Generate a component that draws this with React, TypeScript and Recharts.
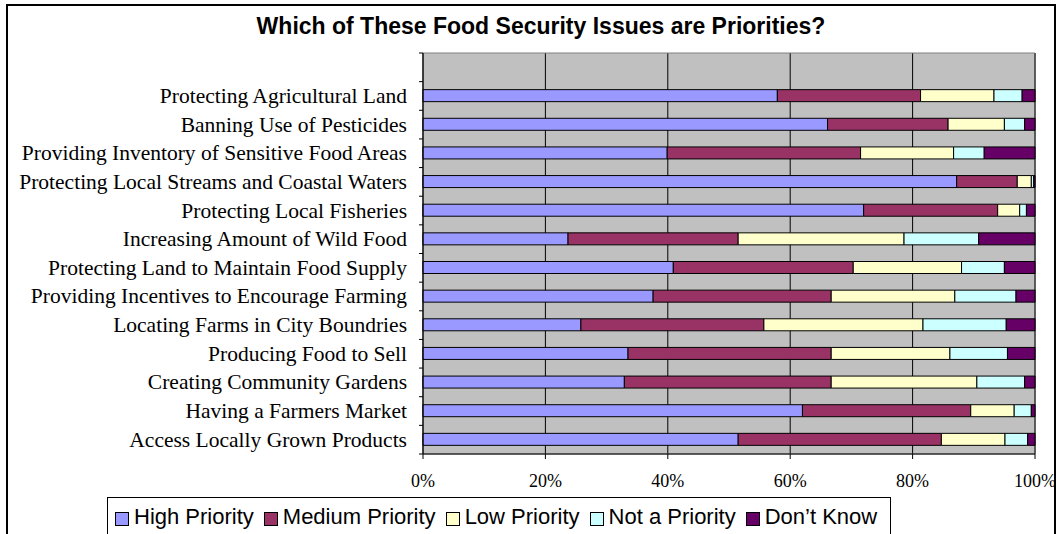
import React from 'react';
import { BarChart, Bar, XAxis, YAxis, CartesianGrid, Legend, ReferenceArea } from 'recharts';

const categories = [
  'Protecting Agricultural Land',
  'Banning Use of Pesticides',
  'Providing Inventory of Sensitive Food Areas',
  'Protecting Local Streams and Coastal Waters',
  'Protecting Local Fisheries',
  'Increasing Amount of Wild Food',
  'Protecting Land to Maintain Food Supply',
  'Providing Incentives to Encourage Farming',
  'Locating Farms in City Boundries',
  'Producing Food to Sell',
  'Creating Community Gardens',
  'Having a Farmers Market',
  'Access Locally Grown Products',
];
const highPriority = [57.9, 66.1, 39.9, 87.2, 72.0, 23.7, 40.9, 37.6, 25.8, 33.5, 32.9, 62.0, 51.5];
const mediumPriority = [23.4, 19.7, 31.6, 9.9, 21.9, 27.8, 29.4, 29.1, 29.9, 33.2, 33.8, 27.5, 33.2];
const lowPriority = [12.0, 9.2, 15.2, 2.3, 3.6, 27.1, 17.7, 20.2, 26.0, 19.4, 23.8, 7.1, 10.4];
const notPriority = [4.6, 3.3, 5.0, 0.4, 1.1, 12.2, 7.0, 10.0, 13.6, 9.4, 7.8, 2.8, 3.7];
const dontKnow = [2.1, 1.7, 8.3, 0.2, 1.4, 9.2, 5.0, 3.1, 4.7, 4.5, 1.7, 0.6, 1.2];
const xTicks = [0, 20, 40, 60, 80, 100];

const series = [
  { key: 'high', name: 'High Priority', color: '#9999FF', values: highPriority },
  { key: 'medium', name: 'Medium Priority', color: '#993366', values: mediumPriority },
  { key: 'low', name: 'Low Priority', color: '#FFFFCC', values: lowPriority },
  { key: 'not', name: 'Not a Priority', color: '#CCFFFF', values: notPriority },
  { key: 'dk', name: 'Don\u2019t Know', color: '#660066', values: dontKnow },
];

const data: any[] = [{ name: ' ' }].concat(
  categories.map((c, i) => {
    const row: any = { name: c };
    series.forEach((s) => {
      row[s.key] = s.values[i];
    });
    return row;
  })
);

const SERIF = '"Liberation Serif", "Times New Roman", serif';
const SANS = '"Liberation Sans", Arial, sans-serif';
const BAND = (454 - 53) / 14;

const YTick = (props: any) => {
  const { x, y, payload, index, visibleTicksCount } = props;
  const half = payload && payload.offset > 0 ? payload.offset : BAND / 2;
  const ax = x + 16;
  return (
    <g>
      <line x1={ax - 4} x2={ax} y1={y - half} y2={y - half} stroke="#000" strokeWidth={1} />
      {index === visibleTicksCount - 1 ? (
        <line x1={ax - 4} x2={ax} y1={y + half} y2={y + half} stroke="#000" strokeWidth={1} />
      ) : null}
      <text x={x} y={y + 7} textAnchor="end" fontFamily={SERIF} fontSize={21.5} fill="#000">
        {payload.value}
      </text>
    </g>
  );
};

const XTick = (props: any) => {
  const { x, y, payload } = props;
  return (
    <text x={x} y={y + 26} textAnchor="middle" fontFamily={SERIF} fontSize={18} fill="#000">
      {payload.value}%
    </text>
  );
};

const seriesOrder = (name: string) => series.findIndex((s) => s.name === name);

const LegendBox = (props: any) => {
  const items = [...(props.payload || [])].sort((a: any, b: any) => seriesOrder(a.value) - seriesOrder(b.value));
  return (
    <div
      style={{
        boxSizing: 'border-box',
        height: 40,
        width: 784,
        border: '1px solid #000',
        background: '#fff',
        display: 'flex',
        alignItems: 'flex-start',
        paddingLeft: 7,
        paddingTop: 7,
        fontFamily: SANS,
        fontSize: 22,
        lineHeight: '24px',
        color: '#000',
        whiteSpace: 'nowrap',
      }}
    >
      {items.map((p: any) => (
        <div key={p.value} style={{ display: 'flex', alignItems: 'center', marginRight: 10 }}>
          <span
            style={{
              display: 'inline-block',
              boxSizing: 'border-box',
              width: 14,
              height: 14,
              border: '1px solid #000',
              background: p.color,
              marginRight: 5,
              marginTop: 3,
            }}
          />
          <span>{p.value}</span>
        </div>
      ))}
    </div>
  );
};

export default function App() {
  return (
    <div style={{ position: 'fixed', left: 0, top: 0, width: 1060, height: 534, overflow: 'hidden', background: '#fff' }}>
      <div
        style={{
          position: 'absolute',
          left: 6,
          top: 4,
          width: 1050,
          height: 600,
          border: '2px solid #000',
          boxSizing: 'border-box',
        }}
      />
      <div
        style={{
          position: 'absolute',
          left: 541,
          top: 15,
          transform: 'translateX(-50%)',
          fontFamily: SANS,
          fontWeight: 'bold',
          fontSize: 23,
          lineHeight: '23px',
          whiteSpace: 'nowrap',
          color: '#000',
        }}
      >
        Which of These Food Security Issues are Priorities?
      </div>
      <div style={{ position: 'absolute', left: 0, top: 0 }}>
        <BarChart
          layout="vertical"
          width={1060}
          height={534}
          data={data}
          margin={{ top: 53, right: 25, left: 0, bottom: 0 }}
        >
          <CartesianGrid horizontal={false} vertical={true} stroke="#000" fill="#C0C0C0" fillOpacity={1} />
          <ReferenceArea x1={0} x2={100} fill="none" stroke="#808080" strokeWidth={1} />
          <XAxis
            type="number"
            domain={[0, 100]}
            ticks={xTicks}
            interval={0}
            height={40}
            axisLine={{ stroke: '#000' }}
            tickLine={{ stroke: '#000' }}
            tickSize={5}
            tick={<XTick />}
          />
          <YAxis
            type="category"
            dataKey="name"
            width={423}
            interval={0}
            axisLine={{ stroke: '#000' }}
            tickLine={false}
            tickSize={4}
            tickMargin={12}
            tick={<YTick />}
          />
          <Legend
            verticalAlign="bottom"
            content={<LegendBox />}
            wrapperStyle={{ position: 'absolute', left: 107, top: 497, width: 784, height: 40 }}
          />
          {series.map((s) => (
            <Bar
              key={s.key}
              dataKey={s.key}
              name={s.name}
              stackId="a"
              fill={s.color}
              stroke="#000"
              strokeWidth={1}
              barSize={12}
              isAnimationActive={false}
            />
          ))}
        </BarChart>
      </div>
    </div>
  );
}
